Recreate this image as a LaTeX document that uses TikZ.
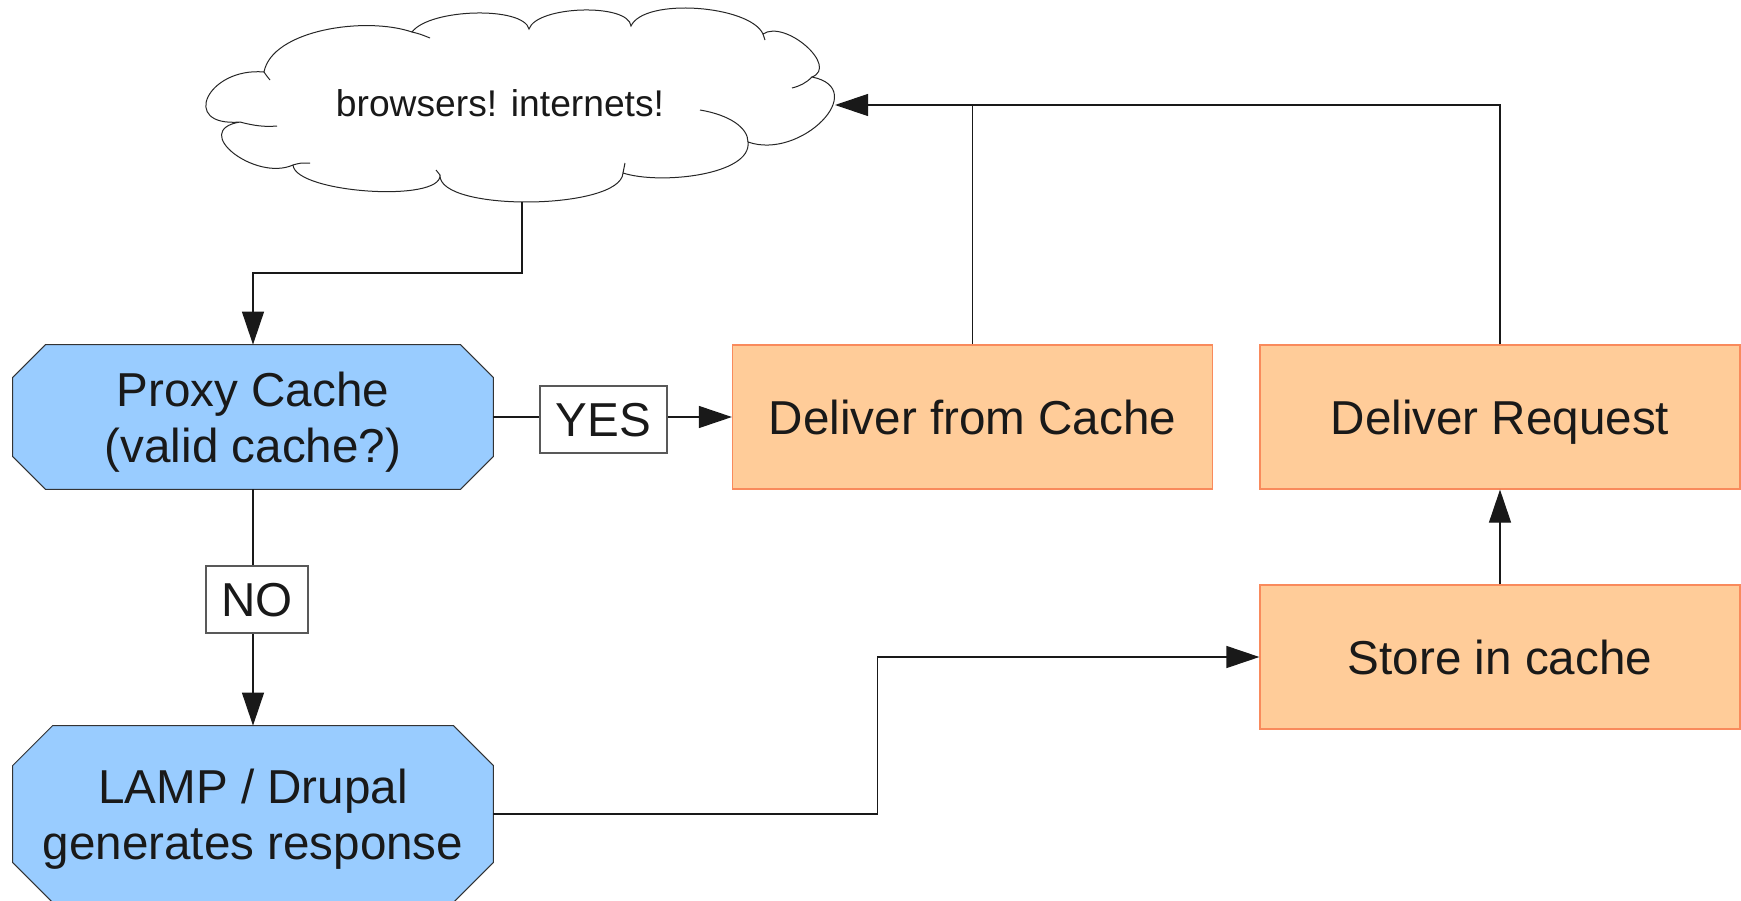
\documentclass[tikz,border=0pt]{standalone}
\usepackage{fontspec}
\setmainfont{Liberation Sans}
\usetikzlibrary{arrows.meta,calc,backgrounds}

\definecolor{procblue}{HTML}{99CCFF}
\definecolor{actfill}{HTML}{FFCC99}
\definecolor{actline}{HTML}{F98A5C}
\definecolor{inkgray}{HTML}{333333}

% octagon with cut corners around a rectangular node: #1 node, #2 corner cut
\newcommand\octagonpath[2]{($(#1.north west)+(#2,0)$) -- ($(#1.north east)+(-#2,0)$)
  -- ($(#1.north east)+(0,#2)$) -- ($(#1.south east)+(0,-#2)$)
  -- ($(#1.south east)+(-#2,0)$) -- ($(#1.south west)+(#2,0)$)
  -- ($(#1.south west)+(0,-#2)$) -- ($(#1.north west)+(0,#2)$) -- cycle}

\tikzset{
  boxtext/.style={font=\fontsize{23.8pt}{28pt}\selectfont, align=center,
    text=black!90, text depth=0pt},
  decision/.style={boxtext, minimum width=240pt, minimum height=72pt, inner sep=0pt},
  octfill/.style={fill=procblue, draw=inkgray, line width=0.5pt},
  action/.style={boxtext, draw=actline, fill=actfill, line width=0.6pt,
    minimum width=240pt, minimum height=72pt, inner sep=0pt},
  answer/.style={boxtext, draw=black!65, fill=white, line width=0.6pt,
    minimum height=33.5pt, inner sep=0pt},
  cloudtext/.style={font=\fontsize{18.6pt}{22pt}\selectfont, text=black!90},
  flow/.style={line width=0.6pt, draw=black!90},
  arrowflow/.style={flow, -{Triangle[length=16.5pt,width=11pt]}},
  cloudline/.style={draw=black!85, line width=0.5pt},
}

\begin{document}
\begin{tikzpicture}[x=0.5pt,y=-0.5pt]
\useasboundingbox (0,0) rectangle (1741,900);

% the cloud: one puff per Bezier segment
\draw[cloudline, fill=white] (240,122)
  .. controls (178.9,127) and (207.7,67) .. (264,72)
  .. controls (272,30) and (365,16) .. (412,32)
  .. controls (429.7,8.4) and (523.3,6) .. (529,29)
  .. controls (536.8,5.55) and (628.6,2.85) .. (631,26)
  .. controls (644.2,-2.8) and (749.8,5.2) .. (763,34)
  .. controls (785.2,19.15) and (839.2,66.45) .. (812,77)
  .. controls (871.2,89) and (800.8,160.6) .. (748,142)
  .. controls (752,175) and (660,185) .. (623,173)
  .. controls (621,210.3) and (438,212.3) .. (440,175)
  .. controls (442,203) and (295,193) .. (293,165)
  .. controls (255.2,182) and (189.2,130.4) .. (240,122) -- cycle;
% puff ends running on inside the outline
\draw[cloudline] (240,122) .. controls (255,126) and (265,127) .. (277,126);
\draw[cloudline] (264,72) .. controls (266,75) .. (270,80);
\draw[cloudline] (412,32) .. controls (420,34) .. (430,38);
\draw[cloudline] (763,34) .. controls (764,37) .. (765,40);
\draw[cloudline] (812,77) .. controls (806,83) and (800,86) .. (792,88);
\draw[cloudline] (748,142) .. controls (748,128) and (730,115) .. (700,110);
\draw[cloudline] (623,173) .. controls (624,168) .. (625,163);
\draw[cloudline] (440,175) -- (436,170);
\draw[cloudline] (293,165) .. controls (300,163) .. (310,163);

\node[cloudtext] (web) at (500,103) {browsers! internets!};
\coordinate (cloudS) at (522,202);
\coordinate (cloudE) at (835,105);

% process steps
\node[decision] (proxy) at (253,417) {Proxy Cache\\(valid cache?)};
\node[decision, minimum height=88pt] (lamp) at (253,814) {LAMP / Drupal\\generates response};
\node[action] (cache) at (972.5,417) {Deliver from Cache};
\node[action] (deliver) at (1500,417) {Deliver Request};
\node[action] (store) at (1500,657) {Store in cache};

\begin{scope}[on background layer]
  \path[octfill] \octagonpath{proxy}{33};
  \path[octfill] \octagonpath{lamp}{40};
\end{scope}

% connectors
\draw[arrowflow] (cloudS) -- ++(0,71) -| (proxy.north);
\draw[arrowflow] (proxy.east) -- (cache.west);
\draw[arrowflow] (proxy.south) -- (lamp.north);
\draw[arrowflow] (lamp.east) -- ++(384,0) |- (store.west);
\draw[arrowflow] (store.north) -- (deliver.south);
\draw[arrowflow] (deliver.north) |- (cloudE);
\draw[flow] (cache.north) -- (cache.north |- cloudE);

% decision answers
\node[answer, minimum width=63.5pt] (yes) at (603.5,419.5) {YES};
\node[answer, minimum width=51pt] (no) at (257,599.5) {NO};
\end{tikzpicture}
\end{document}
